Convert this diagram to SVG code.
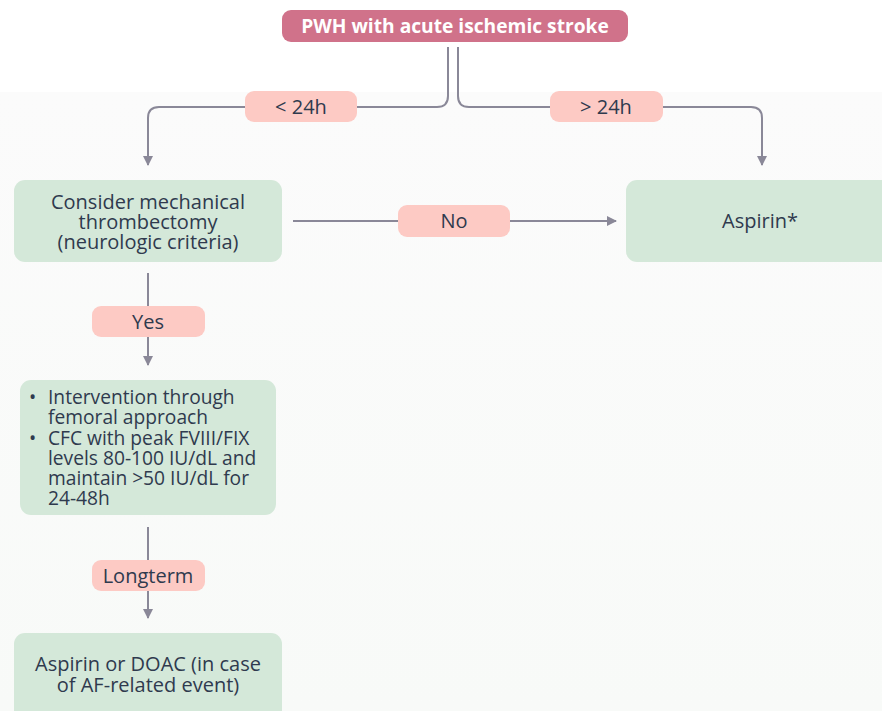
<svg xmlns="http://www.w3.org/2000/svg" width="882" height="711" viewBox="0 0 882 711">
<defs>
<linearGradient id="bg" x1="0" y1="0" x2="0" y2="1">
<stop offset="0" stop-color="#fbfbfb"/>
<stop offset="1" stop-color="#f8faf8"/>
</linearGradient>
<marker id="arr" markerWidth="10" markerHeight="10" refX="9" refY="5" orient="auto" markerUnits="userSpaceOnUse">
<path d="M0,0 L10,5 L0,10 Z" fill="#8a8898"/>
</marker>
</defs>
<style>
.conn{fill:none;stroke:#8a8898;stroke-width:2}
.lbl rect{fill:#fdcac4}
.lbl text,.node text{font-family:"Open Sans","Liberation Sans",sans-serif;font-size:20px;fill:#2f3a4e;text-anchor:middle}
.node rect{fill:#d4e8d9}
.node text.bul{text-anchor:start;font-size:19.2px}
</style>
<rect x="0" y="0" width="882" height="711" fill="#ffffff"/>
<rect x="0" y="92" width="882" height="619" fill="url(#bg)"/>

<g id="connectors">
<path class="conn" d="M448,47 V96 Q448,107 437,107 H159 Q148,107 148,118 V165" marker-end="url(#arr)"/>
<path class="conn" d="M458,47 V96 Q458,107 469,107 H751 Q762,107 762,118 V165" marker-end="url(#arr)"/>
<path class="conn" d="M293,221 H616" marker-end="url(#arr)"/>
<path class="conn" d="M148,273 V365" marker-end="url(#arr)"/>
<path class="conn" d="M148,527 V618" marker-end="url(#arr)"/>
</g>

<g id="title">
<rect x="282" y="10" width="346" height="32" rx="9" fill="#d0728a"/>
<text x="455" y="33" font-family="'Open Sans','Liberation Sans',sans-serif" font-size="19.2" font-weight="bold" fill="#ffffff" text-anchor="middle">PWH with acute ischemic stroke</text>
</g>

<g id="lbl-lt24" class="lbl">
<rect x="245" y="91" width="112" height="31" rx="9"/>
<text x="301" y="114">&lt; 24h</text>
</g>
<g id="lbl-gt24" class="lbl">
<rect x="550" y="91" width="113" height="31" rx="9"/>
<text x="606" y="114">&gt; 24h</text>
</g>

<g id="node-thrombectomy" class="node">
<rect x="14" y="180" width="268" height="82" rx="11"/>
<text x="148" y="209">Consider mechanical</text>
<text x="148" y="229">thrombectomy</text>
<text x="148" y="249">(neurologic criteria)</text>
</g>

<g id="lbl-no" class="lbl">
<rect x="398" y="205" width="112" height="32" rx="9"/>
<text x="454" y="228">No</text>
</g>

<g id="node-aspirin" class="node">
<rect x="626" y="180" width="270" height="82" rx="11"/>
<text x="760" y="228">Aspirin*</text>
</g>

<g id="lbl-yes" class="lbl">
<rect x="92" y="306" width="113" height="31" rx="9"/>
<text x="148" y="329">Yes</text>
</g>

<g id="node-intervention" class="node">
<rect x="20" y="380" width="256" height="135" rx="11"/>
<text class="bul" x="29" y="404">•</text>
<text class="bul" x="48" y="404">Intervention through</text>
<text class="bul" x="48" y="424">femoral approach</text>
<text class="bul" x="29" y="445">•</text>
<text class="bul" x="48" y="445">CFC with peak FVIII/FIX</text>
<text class="bul" x="48" y="465">levels 80-100 IU/dL and</text>
<text class="bul" x="48" y="485">maintain &gt;50 IU/dL for</text>
<text class="bul" x="48" y="505">24-48h</text>
</g>

<g id="lbl-longterm" class="lbl">
<rect x="92" y="560" width="113" height="31" rx="9"/>
<text x="148" y="583">Longterm</text>
</g>

<g id="node-longterm" class="node">
<rect x="14" y="633" width="268" height="90" rx="11"/>
<text x="148" y="671">Aspirin or DOAC (in case</text>
<text x="148" y="692">of AF-related event)</text>
</g>
</svg>
